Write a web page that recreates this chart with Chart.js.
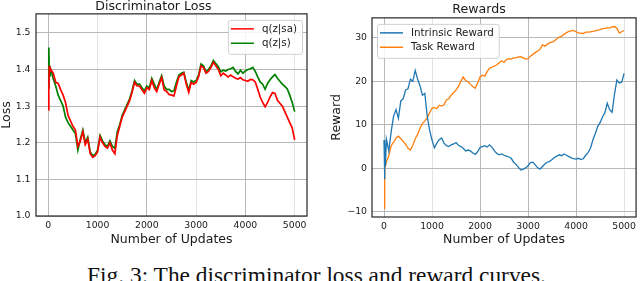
<!DOCTYPE html>
<html>
<head>
<meta charset="utf-8">
<script src="https://cdn.jsdelivr.net/npm/chart.js@4.4.1/dist/chart.umd.min.js"></script>
<style>
  html, body { margin: 0; padding: 0; background: #fff; width: 640px; height: 281px; overflow: hidden; }
  #lossChart { position: absolute; left: 0; top: 0; }
  #rewardChart { position: absolute; left: 320px; top: 0; }
  #caption {
    position: absolute; left: 0; top: 264px; width: 633px; text-align: center;
    font-family: 'Liberation Serif', 'DejaVu Serif', serif; font-size: 23.4px; line-height: 23.4px; color: #111;
    white-space: nowrap;
  }
</style>
</head>
<body>
<canvas id="lossChart" width="320" height="250"></canvas>
<canvas id="rewardChart" width="320" height="250"></canvas>
<div id="caption">Fig. 3: The discriminator loss and reward curves.</div>
<script>
// Number of updates (shared x values for all four curves)
const updates = [0, 10, 20, 30,
  50, 100, 150, 200, 250, 300, 350, 400, 450, 500,
  550, 600, 650, 700, 750, 800, 850, 900, 950, 1000,
  1050, 1100, 1150, 1200, 1250, 1300, 1350, 1400, 1450, 1500,
  1550, 1600, 1650, 1700, 1750, 1800, 1850, 1900, 1950, 2000,
  2050, 2100, 2150, 2200, 2250, 2300, 2350, 2400, 2450, 2500,
  2550, 2600, 2650, 2700, 2750, 2800, 2850, 2900, 2950, 3000,
  3050, 3100, 3150, 3200, 3250, 3300, 3350, 3400, 3450, 3500,
  3550, 3600, 3650, 3700, 3750, 3800, 3850, 3900, 3950, 4000,
  4050, 4100, 4150, 4200, 4250, 4300, 4350, 4400, 4450, 4500,
  4550, 4600, 4650, 4700, 4750, 4800, 4850, 4900, 4950, 5000];

// Discriminator loss, q(z|sa)
const lossSA = [1.29, 1.34, 1.41, 1.395,
  1.40, 1.39, 1.365, 1.362, 1.345, 1.33, 1.31, 1.275, 1.26, 1.245,
  1.235, 1.19, 1.205, 1.23, 1.195, 1.21, 1.17, 1.16, 1.165, 1.175,
  1.215, 1.20, 1.19, 1.185, 1.20, 1.18, 1.17, 1.22, 1.245, 1.27,
  1.285, 1.30, 1.315, 1.338, 1.365, 1.355, 1.355, 1.345, 1.335, 1.35,
  1.345, 1.37, 1.35, 1.34, 1.36, 1.378, 1.345, 1.34, 1.332, 1.33,
  1.328, 1.355, 1.38, 1.385, 1.39, 1.36, 1.338, 1.365, 1.36, 1.365,
  1.38, 1.41, 1.405, 1.39, 1.395, 1.405, 1.42, 1.41, 1.40, 1.383,
  1.39, 1.385, 1.38, 1.385, 1.38, 1.376, 1.374, 1.378, 1.372, 1.37,
  1.368, 1.373, 1.372, 1.366, 1.346, 1.325, 1.31, 1.298, 1.31, 1.325,
  1.337, 1.335, 1.316, 1.308, 1.30, 1.285, 1.27, 1.255, 1.24, 1.208];

// Discriminator loss, q(z|s)
const lossS = [1.35, 1.46, 1.40, 1.38,
  1.40, 1.375, 1.355, 1.33, 1.315, 1.30, 1.27, 1.255, 1.245, 1.235,
  1.225, 1.18, 1.21, 1.235, 1.20, 1.215, 1.175, 1.165, 1.168, 1.18,
  1.22, 1.205, 1.195, 1.19, 1.205, 1.19, 1.185, 1.23, 1.25, 1.275,
  1.29, 1.305, 1.32, 1.342, 1.37, 1.36, 1.36, 1.35, 1.342, 1.355,
  1.35, 1.376, 1.36, 1.345, 1.365, 1.383, 1.355, 1.346, 1.346, 1.34,
  1.342, 1.365, 1.385, 1.39, 1.393, 1.365, 1.343, 1.37, 1.366, 1.37,
  1.385, 1.415, 1.41, 1.394, 1.40, 1.41, 1.425, 1.416, 1.408, 1.394,
  1.398, 1.396, 1.40, 1.402, 1.406, 1.395, 1.388, 1.398, 1.39, 1.396,
  1.40, 1.402, 1.406, 1.395, 1.38, 1.366, 1.36, 1.346, 1.362, 1.372,
  1.38, 1.386, 1.376, 1.368, 1.36, 1.354, 1.347, 1.33, 1.31, 1.285];

// Intrinsic reward
const intrinsicReward = [6.5, -2.5, 6.0, 0.5,
  6.7, 4.0, 8.5, 12.0, 13.5, 11.5, 15.5, 16.0, 18.0, 18.3,
  20.5, 20.0, 22.5, 20.5, 19.0, 16.8, 17.2, 12.0, 8.8, 6.5,
  4.7, 5.8, 6.6, 7.0, 5.8, 5.2, 5.0, 5.4, 5.6, 5.9,
  5.3, 5.0, 4.6, 4.0, 4.2, 4.0, 3.5, 3.2, 3.8, 4.8,
  5.0, 5.2, 4.9, 5.4, 4.8, 4.0, 3.4, 3.1, 3.3, 3.0,
  2.8, 2.6, 2.3, 1.4, 0.9, 0.2, -0.4, -0.2, 0.1, 0.6,
  1.3, 1.4, 0.8, 0.1, -0.2, 0.4, 1.0, 1.4, 1.6, 2.0,
  2.5, 2.8, 3.1, 2.9, 3.3, 3.0, 2.7, 2.4, 2.2, 2.1,
  2.3, 2.0, 2.2, 3.0, 3.6, 4.6, 6.5, 8.0, 9.6, 10.5,
  11.8, 12.8, 15.0, 13.5, 12.9, 17.0, 20.3, 19.6, 19.8, 21.8];

// Task reward
const taskReward = [-9.2, -3.0, 3.2, 0.5,
  1.5, 2.8, 5.2, 6.0, 7.0, 7.4, 6.8, 6.2, 5.5, 4.6,
  4.2, 5.3, 6.8, 7.8, 9.2, 10.3, 10.9, 11.6, 12.8, 13.8,
  14.0, 13.7, 14.5, 14.3, 14.6, 15.7, 16.0, 16.8, 17.4, 18.0,
  18.8, 20.0, 21.0, 20.2, 19.9, 19.3, 18.8, 18.4, 19.6, 21.0,
  21.4, 21.2, 22.3, 23.0, 23.3, 23.5, 23.8, 24.3, 24.7, 24.4,
  25.0, 25.2, 25.1, 25.4, 25.4, 25.6, 25.7, 25.4, 25.1, 25.2,
  25.8, 26.2, 26.6, 27.0, 27.4, 28.4, 28.1, 28.5, 28.9, 29.0,
  29.3, 29.8, 30.2, 30.4, 30.8, 31.2, 31.5, 31.6, 31.7, 31.4,
  31.1, 31.1, 31.0, 31.3, 31.3, 31.4, 31.5, 31.6, 31.8, 31.9,
  32.1, 32.2, 32.3, 32.3, 32.5, 32.6, 32.2, 31.1, 31.4, 31.7];

// Tick labels
const xTicks = [0, 1000, 2000, 3000, 4000, 5000];
const lossTicks = [1.0, 1.1, 1.2, 1.3, 1.4, 1.5];
const rewardTicks = [-10, 0, 10, 20, 30];

const FONT = "'DejaVu Sans', 'Liberation Sans', sans-serif";
const TEXT = '#1a1a1a';

function toPoints(ys) {
    return updates.map((u, i) => ({ x: u, y: ys[i] }));
}

// Frame around the axes (matplotlib-style spines)
const framePlugin = {
    id: 'frame',
    afterDatasetsDraw(chart) {
        const { ctx, chartArea: a } = chart;
        ctx.save();
        ctx.strokeStyle = '#262626';
        ctx.lineWidth = 1.2;
        ctx.strokeRect(a.left, a.top, a.right - a.left, a.bottom - a.top);
        ctx.restore();
    }
};

// Legend drawn inside the plot area
const innerLegendPlugin = {
    id: 'innerLegend',
    afterDraw(chart, args, opts) {
        const { ctx, chartArea: a } = chart;
        const sets = chart.data.datasets;
        ctx.save();
        ctx.font = `10.3px ${FONT}`;
        const textW = Math.max(...sets.map(d => ctx.measureText(d.label).width));
        const lineLen = 23, gap = 8, padL = 3, padR = 5;
        const w = padL + lineLen + gap + textW + padR;
        const h = 34;
        const x = opts.side === 'right' ? a.right - 5 - w : a.left + 5;
        const y = a.top + 6;
        ctx.fillStyle = 'rgba(255,255,255,0.85)';
        ctx.strokeStyle = '#d0d0d0';
        ctx.lineWidth = 1;
        ctx.beginPath();
        ctx.roundRect(x + 0.5, y + 0.5, w, h, 2.5);
        ctx.fill();
        ctx.stroke();
        sets.forEach((d, i) => {
            const ry = y + 9 + i * 14.4;
            ctx.strokeStyle = d.borderColor;
            ctx.lineWidth = 1.5;
            ctx.beginPath();
            ctx.moveTo(x + padL, ry);
            ctx.lineTo(x + padL + lineLen, ry);
            ctx.stroke();
            ctx.fillStyle = TEXT;
            ctx.textBaseline = 'middle';
            ctx.fillText(d.label, x + padL + lineLen + gap, ry + 0.5);
        });
        ctx.restore();
    }
};

function makeChart(id, cfg) {
    return new Chart(document.getElementById(id), {
        type: 'line',
        data: { datasets: cfg.datasets },
        options: {
            responsive: false,
            animation: false,
            devicePixelRatio: 1,
            layout: { padding: cfg.padding },
            elements: { point: { radius: 0 }, line: { tension: 0 } },
            plugins: {
                legend: { display: false },
                tooltip: { enabled: false },
                innerLegend: { side: cfg.legendSide },
                title: {
                    display: true,
                    text: cfg.title,
                    color: TEXT,
                    font: { family: FONT, size: 12.6, weight: 'normal', lineHeight: 1.1 },
                    padding: cfg.titlePadding
                }
            },
            scales: {
                x: {
                    type: 'linear',
                    min: -250,
                    max: 5250,
                    afterFit: s => { s.height = cfg.xHeight; },
                    afterBuildTicks: s => { s.ticks = xTicks.map(v => ({ value: v })); },
                    grid: {
                        drawTicks: false,
                        lineWidth: 1,
                        color: c => cfg.faintX.includes(c.tick.value) ? 'rgba(176,176,176,0.35)' : '#b8b8b8'
                    },
                    border: { display: false },
                    ticks: {
                        padding: 4,
                        color: TEXT,
                        maxRotation: 0,
                        font: { family: FONT, size: 9.3 },
                        callback: v => String(v)
                    },
                    title: {
                        display: true,
                        text: 'Number of Updates',
                        color: TEXT,
                        font: { family: FONT, size: 12.5, lineHeight: 1.2 },
                        padding: { top: 0, bottom: 3 }
                    }
                },
                y: {
                    type: 'linear',
                    min: cfg.yMin,
                    max: cfg.yMax,
                    afterFit: s => { s.width = cfg.yWidth; },
                    afterBuildTicks: s => { s.ticks = cfg.yTicks.map(v => ({ value: v })); },
                    grid: { drawTicks: false, lineWidth: 1, color: '#b8b8b8' },
                    border: { display: false },
                    ticks: {
                        padding: cfg.yTickPad,
                        color: TEXT,
                        font: { family: FONT, size: 9.3 },
                        callback: cfg.yFormat
                    },
                    title: {
                        display: true,
                        text: cfg.yTitle,
                        color: TEXT,
                        font: { family: FONT, size: 12.5, lineHeight: 1.0 },
                        padding: { top: cfg.yTitlePad, bottom: 0 }
                    }
                }
            }
        },
        plugins: [framePlugin, innerLegendPlugin]
    });
}

makeChart('lossChart', {
    title: 'Discriminator Loss',
    titlePadding: { top: 0, bottom: 0 },
    padding: { left: 0, right: 13, top: 0, bottom: 0 },
    xHeight: 34,
    yWidth: 36,
    yMin: 1.0,
    yMax: 1.552,
    yTicks: lossTicks,
    yTickPad: 5.5,
    yTitle: 'Loss',
    yTitlePad: 0,
    yFormat: v => v.toFixed(1),
    faintX: [1000, 3000, 5000],
    legendSide: 'right',
    datasets: [
        { label: 'q(z|sa)', data: toPoints(lossSA), borderColor: '#ff0000', borderWidth: 1.7, fill: false },
        { label: 'q(z|s)', data: toPoints(lossS), borderColor: '#008000', borderWidth: 1.7, fill: false }
    ]
});

makeChart('rewardChart', {
    title: 'Rewards',
    titlePadding: { top: 0, bottom: 1 },
    padding: { left: 0, right: 2, top: 3, bottom: 0 },
    xHeight: 33,
    yWidth: 52,
    yMin: -11.2,
    yMax: 34.6,
    yTicks: rewardTicks,
    yTickPad: 5,
    yTitle: 'Reward',
    yTitlePad: 10.5,
    yFormat: v => (v < 0 ? '\u2212' + Math.abs(v) : String(v)),
    faintX: [1000, 5000],
    legendSide: 'left',
    datasets: [
        { label: 'Intrinsic Reward', data: toPoints(intrinsicReward), borderColor: '#1f77b4', borderWidth: 1.3, fill: false },
        { label: 'Task Reward', data: toPoints(taskReward), borderColor: '#ff7f0e', borderWidth: 1.3, fill: false }
    ]
});
</script>
</body>
</html>
